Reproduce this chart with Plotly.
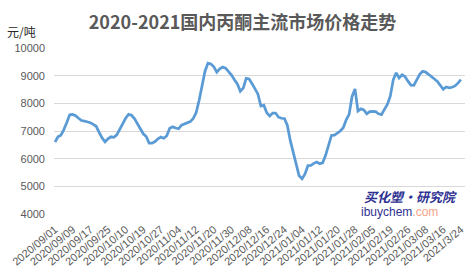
import plotly.graph_objects as go

title_text = "2020-2021国内丙酮主流市场价格走势"
unit_text = "元/吨"

# tick labels (one every 6 trading days)
tick_labels = ["2020/09/01", "2020/09/09", "2020/09/17", "2020/09/25", "2020/10/10",
               "2020/10/19", "2020/10/27", "2020/11/04", "2020/11/12", "2020/11/20",
               "2020/11/30", "2020/12/08", "2020/12/16", "2020/12/24", "2021/01/04",
               "2021/01/12", "2021/01/20", "2021/01/28", "2021/02/05", "2021/02/19",
               "2021/02/26", "2021/03/08", "2021/03/16", "2021/3/24"]
label_step = 6

y_ticks = [4000, 5000, 6000, 7000, 8000, 9000, 10000]

# price series (yuan/ton), one per trading day
prices = [6600, 6790, 6850, 7050, 7310, 7590, 7600, 7550, 7460, 7380,
          7360, 7340, 7300, 7240, 7170, 6950, 6750, 6610, 6720, 6790,
          6770, 6860, 7070, 7280, 7460, 7600, 7570, 7450, 7270, 7050,
          6900, 6800, 6560, 6560, 6620, 6720, 6780, 6740, 6830, 7100,
          7150, 7110, 7080, 7210, 7260, 7310, 7340, 7450, 7670, 8110,
          8620, 9160, 9450, 9420, 9320, 9130, 9250, 9310, 9270, 9150,
          9020, 8850, 8700, 8435, 8550, 8900, 8880, 8710, 8490, 8330,
          7900, 7930, 7660, 7540, 7650, 7650, 7500, 7460, 7450, 7200,
          6650, 6250, 5830, 5380, 5270, 5450, 5750, 5760, 5830, 5880,
          5820, 5850, 6120, 6500, 6840, 6850, 6920, 7000, 7120, 7400,
          7600, 8250, 8520, 7720, 7800, 7760, 7620, 7700, 7710, 7700,
          7620, 7590, 7780, 7960, 8260, 8850, 9100, 8920, 9030, 8970,
          8800, 8660, 8650, 8870, 9050, 9160, 9130, 9050, 8950, 8880,
          8790, 8640, 8510, 8590, 8560, 8580, 8630, 8730, 8860]

x_idx = list(range(len(prices)))
tick_vals = [i * label_step for i in range(len(tick_labels))]

fig = go.Figure()
fig.add_trace(go.Scatter(
    x=x_idx, y=prices, mode="lines",
    line=dict(color="#5b9bd5", width=2.75),
    hoverinfo="skip", showlegend=False))

fig.update_layout(
    width=471, height=278,
    margin=dict(l=54, r=6, t=48, b=64),
    paper_bgcolor="white", plot_bgcolor="white",
    title=dict(text="<b>" + title_text + "</b>", x=0.515, xanchor="center",
               y=1 - 23 / 278, yanchor="middle",
               font=dict(family="Noto Sans CJK SC", size=18, color="#595959")),
    xaxis=dict(range=[-0.35, 139.4], tickmode="array", tickvals=tick_vals,
               ticktext=tick_labels, tickangle=-40, showgrid=False, zeroline=False,
               showline=False, ticks="", ticklabelstandoff=6,
               tickfont=dict(family="Liberation Sans", size=11, color="#595959")),
    yaxis=dict(range=[4000, 10000], tickmode="array", tickvals=y_ticks,
               ticktext=[str(v) for v in y_ticks],
               showgrid=True, gridcolor="#d9d9d9", gridwidth=1, zeroline=False,
               showline=False, ticks="", ticklabelstandoff=8,
               tickfont=dict(family="Liberation Sans", size=11, color="#595959")),
)

fig.add_annotation(text=unit_text, xref="paper", yref="paper", x=-0.08, y=1.1,
                   xanchor="center", yanchor="middle", showarrow=False,
                   font=dict(family="Noto Sans CJK SC", size=12, color="#262626"))

fig.add_annotation(text="<b><i>买化塑·研究院</i></b>", xref="paper", yref="paper",
                   x=0.985, y=(278 - 64 - 196) / (278 - 112), xanchor="right", yanchor="middle",
                   showarrow=False,
                   font=dict(family="Noto Sans CJK SC", size=13, color="#2e3192"))
fig.add_annotation(text="ibuychem<span style='color:#f4a58a'>.com</span>", xref="paper", yref="paper",
                   x=0.94, y=(278 - 64 - 212) / (278 - 112), xanchor="right", yanchor="middle",
                   showarrow=False,
                   font=dict(family="Liberation Sans", size=12, color="#2e3192"))

fig.write_html("out.html")
